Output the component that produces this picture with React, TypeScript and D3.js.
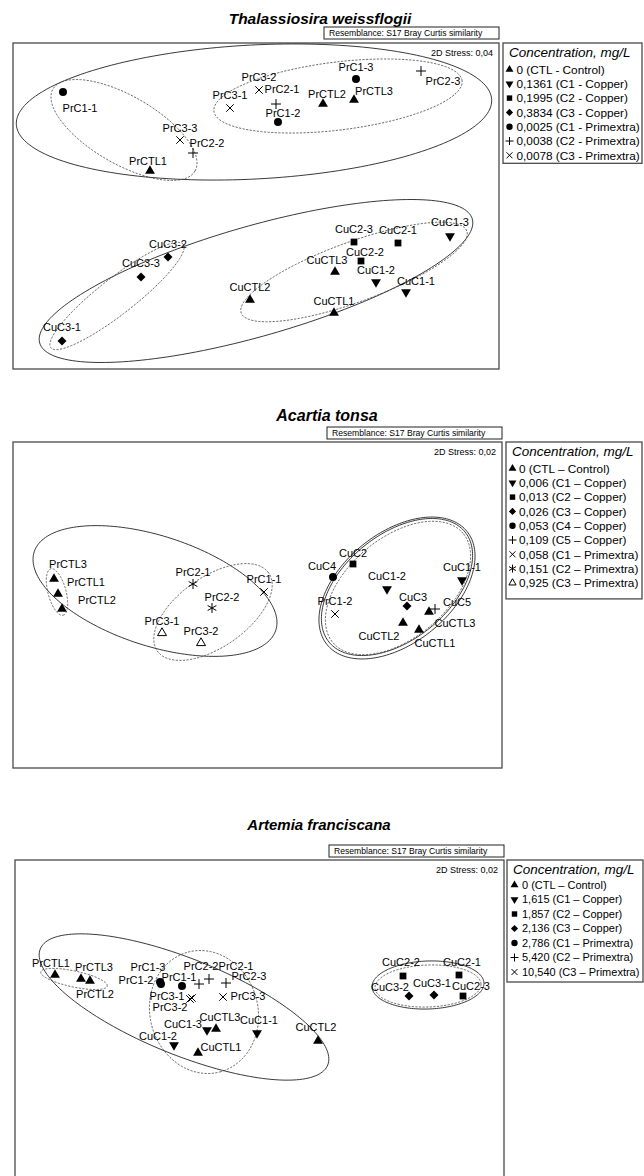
import * as d3 from "d3"

type Mark = "tri" | "triDown" | "square" | "diamond" | "circle" | "plus" | "times" | "asterisk" | "triOpen"

// ---------- Thalassiosira weissflogii (nMDS coordinates)
const thalSamples = ["PrC1-1", "PrC3-3", "PrC2-2", "PrCTL1", "PrC3-1", "PrC3-2", "PrC2-1", "PrC1-2", "PrCTL2", "PrCTL3", "PrC1-3", "PrC2-3",
  "CuC3-2", "CuC3-3", "CuC3-1", "CuCTL2", "CuCTL3", "CuCTL1", "CuC2-3", "CuC2-1", "CuC2-2", "CuC1-2", "CuC1-1", "CuC1-3"]
const thalMds1 = [-1.93, -0.76, -0.63, -1.06, -0.26, 0.03, 0.2, 0.22, 0.67, 0.98, 1.0, 1.65,
  -0.88, -1.15, -1.94, -0.06, 0.79, 0.78, 0.98, 1.42, 1.05, 1.2, 1.5, 1.94]
const thalMds2 = [1.14, 0.66, 0.53, 0.35, 0.98, 1.16, 1.02, 0.84, 1.02, 1.06, 1.27, 1.35,
  -0.51, -0.71, -1.35, -0.94, -0.66, -1.07, -0.36, -0.37, -0.55, -0.76, -0.86, -0.3]
const thalLegendKeys = ["CTL", "CuC1", "CuC2", "CuC3", "PrC1", "PrC2", "PrC3"]
const thalLegendLabels = ["0 (CTL - Control)", "0,1361 (C1 - Copper)", "0,1995 (C2 - Copper)", "0,3834 (C3 - Copper)",
  "0,0025 (C1 - Primextra)", "0,0038 (C2 - Primextra)", "0,0078 (C3 - Primextra)"]
// similarity contours: centre, semi axes, angle (deg), level
const thalContourCx = [-0.02, -1.32, 0.82, 0.0, -1.39, 0.98]
const thalContourCy = [0.94, 0.76, 1.1, -0.75, -0.9, -0.66]
const thalContourRx = [2.38, 0.82, 1.25, 2.25, 0.84, 1.2]
const thalContourRy = [0.67, 0.34, 0.34, 0.55, 0.18, 0.3]
const thalContourAngle = [3, -30, 7, 16, 38, 20]
const thalContourLevel = ["outer", "inner", "inner", "outer", "inner", "inner"]

// ---------- Acartia tonsa
const acarSamples = ["PrCTL3", "PrCTL1", "PrCTL2", "PrC2-1", "PrC2-2", "PrC1-1", "PrC3-1", "PrC3-2",
  "CuC4", "CuC2", "CuC1-2", "CuC1-1", "CuC3", "CuC5", "CuCTL3", "CuCTL2", "CuCTL1", "PrC1-2"]
const acarMds1 = [-2.04, -2.0, -1.96, -0.65, -0.46, 0.06, -0.96, -0.57, 0.75, 0.95, 1.29, 2.04, 1.49, 1.77, 1.71, 1.45, 1.61, 0.77]
const acarMds2 = [0.26, 0.11, -0.04, 0.21, -0.03, 0.13, -0.28, -0.38, 0.28, 0.41, 0.16, 0.25, -0.01, -0.04, -0.07, -0.18, -0.25, -0.09]
const acarLegendKeys = ["CTL", "CuC1", "CuC2", "CuC3", "CuC4", "CuC5", "PrC1", "PrC2", "PrC3"]
const acarLegendLabels = ["0 (CTL – Control)", "0,006 (C1 – Copper)", "0,013 (C2 – Copper)", "0,026 (C3 – Copper)",
  "0,053 (C4 – Copper)", "0,109 (C5 – Copper)", "0,058 (C1 – Primextra)", "0,151 (C2 – Primextra)", "0,925 (C3 – Primextra)"]
const acarContourCx = [-1.03, -2.01, -0.45, 1.39, 1.39, 1.4]
const acarContourCy = [0.14, 0.13, -0.07, 0.17, 0.18, 0.17]
const acarContourRx = [1.27, 0.24, 0.68, 0.9, 0.875, 0.85]
const acarContourRy = [0.55, 0.09, 0.35, 0.55, 0.525, 0.5]
const acarContourAngle = [-18, -75, 35, 39, 39, 40]
const acarContourLevel = ["outer", "inner", "inner", "outer", "outer", "inner"]

// ---------- Artemia franciscana
const artSamples = ["PrCTL1", "PrCTL3", "PrCTL2", "PrC1-3", "PrC1-2", "PrC1-1", "PrC2-2", "PrC2-1", "PrC2-3", "PrC3-1", "PrC3-2", "PrC3-3",
  "CuC1-3", "CuCTL3", "CuC1-1", "CuC1-2", "CuCTL1", "CuCTL2", "CuC2-2", "CuC2-1", "CuC3-2", "CuC3-1", "CuC2-3"]
const artMds1 = [-2.04, -1.78, -1.69, -0.99, -0.98, -0.77, -0.6, -0.5, -0.33, -0.67, -0.69, -0.36,
  -0.52, -0.43, -0.02, -0.85, -0.61, 0.59, 1.44, 2.0, 1.5, 1.75, 2.04]
const artMds2 = [0.45, 0.41, 0.39, 0.38, 0.36, 0.34, 0.36, 0.41, 0.37, 0.22, 0.21, 0.23,
  -0.1, -0.09, -0.13, -0.25, -0.33, -0.21, 0.44, 0.45, 0.24, 0.25, 0.24]
const artLegendKeys = ["CTL", "CuC1", "CuC2", "CuC3", "PrC1", "PrC2", "PrC3"]
const artLegendLabels = ["0 (CTL – Control)", "1,615 (C1 – Copper)", "1,857 (C2 – Copper)", "2,136 (C3 – Copper)",
  "2,786 (C1 – Primextra)", "5,420 (C2 – Primextra)", "10,540 (C3 – Primextra)"]
const artContourCx = [-0.75, -1.85, -0.55, 1.69, 1.69]
const artContourCy = [0.13, 0.41, 0.08, 0.35, 0.34]
const artContourRx = [1.55, 0.34, 0.62, 0.56, 0.53]
const artContourRy = [0.48, 0.08, 0.54, 0.24, 0.21]
const artContourAngle = [-22, -12, -75, 2, 2]
const artContourLevel = ["outer", "inner", "inner", "outer", "inner"]

// ---------- marks per treatment
const marksA: Record<string, Mark> = { CTL: "tri", CuC1: "triDown", CuC2: "square", CuC3: "diamond", PrC1: "circle", PrC2: "plus", PrC3: "times" }
const marksB: Record<string, Mark> = {
  CTL: "tri", CuC1: "triDown", CuC2: "square", CuC3: "diamond", CuC4: "circle", CuC5: "plus",
  PrC1: "times", PrC2: "asterisk", PrC3: "triOpen",
}

// label placement (dx, baseline dy) relative to the point; default centred above
const thalLabelPos: Record<string, [number, number]> = {
  "PrC1-1": [17, 20], "PrC3-3": [0, -8], "PrC2-2": [14, -6], "PrCTL1": [-2, -6], "PrC2-1": [6, -11], "PrC1-2": [5, -5],
  "PrCTL2": [4, -6], "PrCTL3": [20, -5], "PrC1-3": [0, -8], "PrC2-3": [22, 14], "CuC3-3": [0, -10], "CuC3-1": [0, -10],
  "CuCTL3": [-8, -8], "CuCTL1": [0, -8], "CuC2-2": [4, -5], "CuC1-2": [0, -8], "CuC1-1": [10, -7], "CuC1-3": [0, -10],
}
const acarLabelPos: Record<string, [number, number]> = {
  "PrCTL3": [14, -11], "PrCTL1": [28, -8], "PrCTL2": [35, -5], "PrC2-1": [0, -8], "PrC2-2": [10, -7], "PrC3-1": [0, -8],
  "PrC3-2": [0, -8], "CuC4": [-11, -7], "CuC2": [0, -7], "CuC3": [6, -5], "CuC5": [22, -3], "CuCTL3": [26, 15],
  "CuCTL2": [-24, 17], "CuCTL1": [16, 17],
}
const artLabelPos: Record<string, [number, number]> = {
  "PrCTL1": [-4, -8], "PrCTL3": [13, -8], "PrCTL2": [5, 17], "PrC1-3": [-12, -11], "PrC1-2": [-25, 0], "PrC1-1": [-3, -5],
  "PrC2-2": [2, -14], "PrC2-1": [27, -9], "PrC2-3": [23, -3], "PrC3-1": [-25, 2], "PrC3-2": [-20, 12], "PrC3-3": [25, 3],
  "CuC1-3": [-24, -2], "CuCTL3": [4, -8], "CuC1-1": [2, -9], "CuC1-2": [-16, -5], "CuCTL1": [23, -2], "CuCTL2": [-2, -10],
  "CuC2-2": [-2, -10], "CuC2-1": [3, -9], "CuC3-2": [-19, -5], "CuC3-1": [-2, -8], "CuC2-3": [8, -6],
}

const FONT = "'Liberation Sans', Arial, Helvetica, sans-serif"

// stroke symbols drawn as custom d3 symbol types (size = (2r)^2)
const plusSymbol: d3.SymbolType = {
  draw(ctx, size) {
    const r = Math.sqrt(size) / 2
    ctx.moveTo(-r, 0); ctx.lineTo(r, 0); ctx.moveTo(0, -r); ctx.lineTo(0, r)
  },
}
const timesSymbol: d3.SymbolType = {
  draw(ctx, size) {
    const r = Math.sqrt(size) / 2
    ctx.moveTo(-r, -r); ctx.lineTo(r, r); ctx.moveTo(-r, r); ctx.lineTo(r, -r)
  },
}
const asteriskSymbol: d3.SymbolType = {
  draw(ctx, size) {
    const r = Math.sqrt(size) / 2
    const u = r * 0.87, t = r * 0.5
    ctx.moveTo(0, -r); ctx.lineTo(0, r)
    ctx.moveTo(-u, -t); ctx.lineTo(u, t)
    ctx.moveTo(-u, t); ctx.lineTo(u, -t)
  },
}
const openTriSymbol: d3.SymbolType = {
  draw(ctx, size) {
    const s = Math.sqrt(size)
    const h = s / Math.sqrt(3)
    ctx.moveTo(0, -h); ctx.lineTo(s / 2, h / 2); ctx.lineTo(-s / 2, h / 2); ctx.closePath()
  },
}

const symbolSpec: Record<Mark, [d3.SymbolType, number, number, boolean]> = {
  tri: [d3.symbolTriangle, 42, 0, true],
  triDown: [d3.symbolTriangle, 42, 180, true],
  square: [d3.symbolSquare, 46, 0, true],
  diamond: [d3.symbolSquare, 40, 45, true],
  circle: [d3.symbolCircle, 50, 0, true],
  plus: [plusSymbol, 100, 0, false],
  times: [timesSymbol, 56, 0, false],
  asterisk: [asteriskSymbol, 100, 0, false],
  triOpen: [openTriSymbol, 81, 0, false],
}

function Marker({ mark, x, y, k = 1 }: { mark: Mark; x: number; y: number; k?: number }) {
  const [type, size, rot, filled] = symbolSpec[mark]
  const d = d3.symbol().type(type).size(size * k * k)() || ""
  return (
    <path
      d={d}
      transform={`translate(${x},${y}) rotate(${rot})`}
      fill={filled ? "#000" : "none"}
      stroke="#000"
      strokeWidth={filled ? 0 : 1}
    />
  )
}

const treatmentOf = (name: string) => (name.includes("CTL") ? "CTL" : (name.match(/^(Cu|Pr)C\d/) || [name])[0])

interface Layout {
  title: string
  titleX: number
  titleY: number
  titleSize: number
  boxY: number
  x0: number
  x1: number
  y0: number
  y1: number
  legendX0: number
  legendX1: number
  legendPad: number
  legendFont: number
  legendRow1: number
  legendStep: number
  legendMarkDx: number
  legendTextDx: number
  cx: number
  cy: number
  stress: string
}

interface PanelProps {
  layout: Layout
  samples: string[]
  mds1: number[]
  mds2: number[]
  marks: Record<string, Mark>
  legendKeys: string[]
  legendLabels: string[]
  ccx: number[]
  ccy: number[]
  crx: number[]
  cry: number[]
  cang: number[]
  clevel: string[]
  labelPos: Record<string, [number, number]>
}

function Panel(p: PanelProps) {
  const L = p.layout
  const xScale = d3.scaleLinear().domain([(L.x0 - L.cx) / 100, (L.x1 - L.cx) / 100]).range([L.x0, L.x1])
  const yScale = d3.scaleLinear().domain([(L.cy - L.y1) / 100, (L.cy - L.y0) / 100]).range([L.y1, L.y0])

  const line = d3
    .line<[number, number]>()
    .x((d) => xScale(d[0]))
    .y((d) => yScale(d[1]))
    .curve(d3.curveLinearClosed)

  const contours = p.ccx.map((cx, i) => {
    const a = p.crx[i]
    const b = p.cry[i]
    const th = (p.cang[i] * Math.PI) / 180
    const pts: [number, number][] = d3.range(0, 180).map((k) => {
      const t = (k / 180) * 2 * Math.PI
      return [
        cx + a * Math.cos(t) * Math.cos(th) - b * Math.sin(t) * Math.sin(th),
        p.ccy[i] + a * Math.cos(t) * Math.sin(th) + b * Math.sin(t) * Math.cos(th),
      ]
    })
    return { d: line(pts) || "", level: p.clevel[i] }
  })

  const legendTop = L.y0
  const legendBottom = legendTop + L.legendRow1 + (p.legendKeys.length - 1) * L.legendStep + L.legendPad

  return (
    <g fontFamily={FONT}>
      <text x={L.titleX} y={L.titleY} textAnchor="middle" fontSize={L.titleSize} fontWeight="bold" fontStyle="italic">
        {L.title}
      </text>
      <rect x={L.x1 - 175} y={L.boxY} width={175} height={12} fill="#fff" stroke="#222" strokeWidth={1} />
      <text x={L.x1 - 170} y={L.boxY + 9} fontSize={8.6}>
        Resemblance: S17 Bray Curtis similarity
      </text>
      <rect x={L.x0} y={L.y0} width={L.x1 - L.x0} height={L.y1 - L.y0} fill="none" stroke="#4a4a4a" strokeWidth={1.3} />
      <text x={L.x1 - 6} y={L.y0 + 13} textAnchor="end" fontSize={9}>
        {L.stress}
      </text>

      {contours.map((c, i) => (
        <path
          key={i}
          d={c.d}
          fill="none"
          stroke={c.level === "outer" ? "#222" : "#444"}
          strokeWidth={c.level === "outer" ? 0.9 : 0.8}
          strokeDasharray={c.level === "outer" ? undefined : "2.2,1.4"}
        />
      ))}

      {p.samples.map((s, i) => {
        const px = xScale(p.mds1[i])
        const py = yScale(p.mds2[i])
        const [dx, dy] = p.labelPos[s] || [0, -9]
        return (
          <g key={s}>
            <Marker mark={p.marks[treatmentOf(s)]} x={px} y={py} />
            <text x={px + dx} y={py + dy} textAnchor="middle" fontSize={11}>
              {s}
            </text>
          </g>
        )
      })}

      <rect x={L.legendX0} y={legendTop} width={L.legendX1 - L.legendX0} height={legendBottom - legendTop} fill="#fff" stroke="#4a4a4a" strokeWidth={1.3} />
      <text x={L.legendX0 + 6} y={legendTop + 13.7} fontSize={13.5} fontStyle="italic">
        Concentration, mg/L
      </text>
      {p.legendKeys.map((k, i) => {
        const ry = legendTop + L.legendRow1 + i * L.legendStep
        return (
          <g key={k}>
            <Marker mark={p.marks[k]} x={L.legendX0 + L.legendMarkDx} y={ry} k={0.8} />
            <text x={L.legendX0 + L.legendTextDx} y={ry + L.legendFont * 0.36} fontSize={L.legendFont}>
              {p.legendLabels[i]}
            </text>
          </g>
        )
      })}
    </g>
  )
}

const thalLayout: Layout = {
  title: "Thalassiosira weissflogii", titleX: 320, titleY: 23.5, titleSize: 15.5, boxY: 27,
  x0: 13, x1: 499, y0: 43, y1: 369, legendX0: 503, legendX1: 642, legendPad: 8,
  legendFont: 11.8, legendRow1: 26.5, legendStep: 14.3, legendMarkDx: 6.5, legendTextDx: 13.5,
  cx: 256, cy: 206, stress: "2D Stress: 0,04",
}
const acarLayout: Layout = {
  title: "Acartia tonsa", titleX: 327, titleY: 420.5, titleSize: 16, boxY: 427,
  x0: 13, x1: 502, y0: 442, y1: 768, legendX0: 506, legendX1: 642, legendPad: 16,
  legendFont: 11.8, legendRow1: 26.5, legendStep: 14.3, legendMarkDx: 6.5, legendTextDx: 13,
  cx: 258, cy: 605, stress: "2D Stress: 0,02",
}
const artLayout: Layout = {
  title: "Artemia franciscana", titleX: 319, titleY: 830, titleSize: 15, boxY: 845,
  x0: 15, x1: 504, y0: 860, y1: 1186, legendX0: 507, legendX1: 643, legendPad: 10,
  legendFont: 11, legendRow1: 25, legendStep: 14.5, legendMarkDx: 7.5, legendTextDx: 15,
  cx: 259, cy: 1020, stress: "2D Stress: 0,02",
}

export default function App() {
  return (
    <div style={{ position: "absolute", left: 0, top: 0, background: "#fff" }}>
      <svg width={644} height={1176} viewBox="0 0 644 1176" style={{ display: "block", background: "#fff" }}>
        <Panel layout={thalLayout} samples={thalSamples} mds1={thalMds1} mds2={thalMds2} marks={marksA}
          legendKeys={thalLegendKeys} legendLabels={thalLegendLabels}
          ccx={thalContourCx} ccy={thalContourCy} crx={thalContourRx} cry={thalContourRy} cang={thalContourAngle} clevel={thalContourLevel}
          labelPos={thalLabelPos} />
        <Panel layout={acarLayout} samples={acarSamples} mds1={acarMds1} mds2={acarMds2} marks={marksB}
          legendKeys={acarLegendKeys} legendLabels={acarLegendLabels}
          ccx={acarContourCx} ccy={acarContourCy} crx={acarContourRx} cry={acarContourRy} cang={acarContourAngle} clevel={acarContourLevel}
          labelPos={acarLabelPos} />
        <Panel layout={artLayout} samples={artSamples} mds1={artMds1} mds2={artMds2} marks={marksA}
          legendKeys={artLegendKeys} legendLabels={artLegendLabels}
          ccx={artContourCx} ccy={artContourCy} crx={artContourRx} cry={artContourRy} cang={artContourAngle} clevel={artContourLevel}
          labelPos={artLabelPos} />
      </svg>
    </div>
  )
}
